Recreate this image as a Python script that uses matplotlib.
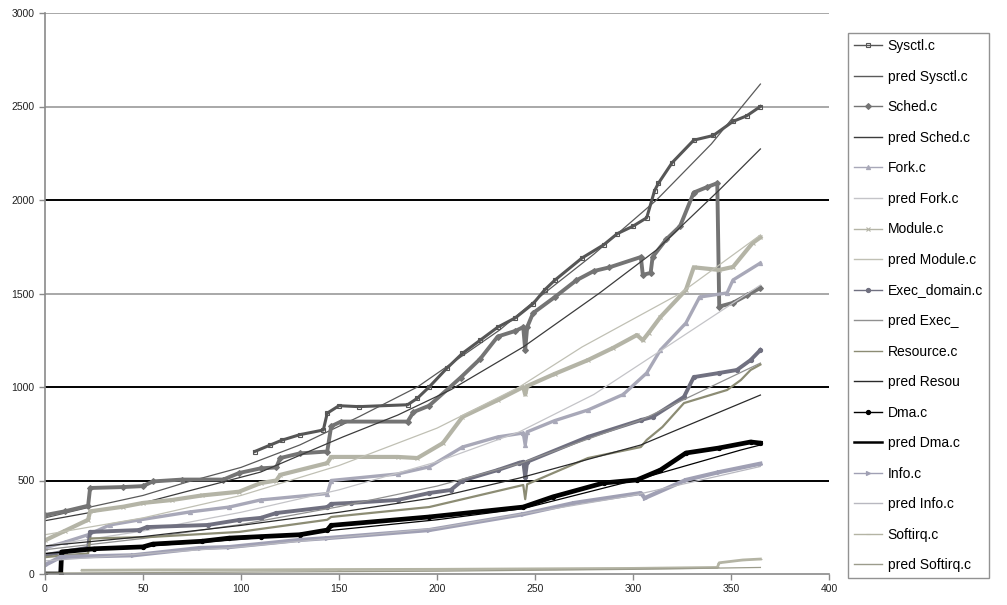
import numpy as np
import matplotlib
matplotlib.use('Agg')
import matplotlib.pyplot as plt

plt.rcParams['font.family'] = ['Liberation Sans', 'DejaVu Sans']

# ---- data (day, size) ----
sysctl_x = [107, 115, 121, 130, 142, 144, 150, 160, 185, 190, 196, 205, 213, 222, 231, 240, 249, 255, 260, 274, 285, 292, 300, 307, 311, 313, 320, 331, 341, 351, 358, 365]
sysctl_y = [655, 690, 716, 745, 770, 860, 900, 895, 905, 940, 1000, 1100, 1180, 1250, 1320, 1370, 1445, 1520, 1570, 1690, 1760, 1820, 1860, 1905, 2050, 2090, 2200, 2320, 2345, 2420, 2450, 2500]
pred_sysctl_x = [0, 23, 50, 72, 100, 130, 160, 190, 232, 249, 280, 312, 340, 365]
pred_sysctl_y = [300, 358, 420, 490, 570, 690, 840, 1000, 1305, 1454, 1710, 2000, 2300, 2620]

sched_x = [0, 10, 22, 23, 40, 50, 55, 70, 91, 99, 110, 118, 120, 130, 144, 146, 151, 185, 188, 196, 212, 222, 231, 240, 244, 245, 246, 249, 260, 271, 280, 288, 304, 305, 309, 310, 317, 324, 331, 338, 343, 344, 351, 358, 365]
sched_y = [315, 335, 365, 460, 465, 470, 495, 505, 505, 540, 565, 570, 620, 645, 655, 790, 815, 815, 866, 900, 1050, 1150, 1270, 1300, 1320, 1200, 1320, 1395, 1480, 1570, 1620, 1640, 1695, 1600, 1610, 1695, 1790, 1860, 2040, 2070, 2090, 1430, 1450, 1490, 1530]
pred_sched_x = [0, 50, 110, 152, 180, 207, 244, 283, 312, 344, 365]
pred_sched_y = [285, 380, 545, 733, 850, 985, 1214, 1503, 1733, 2053, 2273]

fork_x = [0, 10, 22, 33, 48, 74, 94, 110, 144, 146, 180, 196, 213, 231, 244, 245, 246, 260, 277, 295, 307, 314, 327, 334, 348, 351, 365]
fork_y = [140, 170, 210, 262, 289, 332, 358, 396, 430, 500, 535, 573, 679, 733, 754, 690, 760, 820, 877, 960, 1075, 1198, 1342, 1481, 1503, 1572, 1663]
pred_fork_x = [0, 50, 100, 150, 200, 242, 280, 317, 365]
pred_fork_y = [150, 230, 330, 450, 600, 760, 960, 1214, 1545]

module_x = [0, 10, 22, 23, 40, 50, 65, 80, 99, 110, 118, 120, 144, 146, 180, 190, 203, 213, 231, 244, 245, 246, 260, 277, 290, 302, 305, 308, 314, 327, 331, 344, 351, 361, 365]
module_y = [180, 230, 290, 335, 360, 380, 396, 420, 440, 486, 500, 530, 593, 626, 626, 620, 700, 840, 930, 1000, 960, 1005, 1070, 1144, 1210, 1278, 1250, 1290, 1374, 1519, 1640, 1626, 1642, 1770, 1800]
pred_module_x = [0, 50, 100, 150, 200, 242, 274, 324, 365]
pred_module_y = [210, 300, 420, 580, 780, 1000, 1214, 1500, 1813]

exec_x = [0, 10, 22, 23, 48, 52, 83, 99, 110, 118, 144, 146, 156, 180, 196, 207, 213, 231, 242, 244, 245, 246, 277, 304, 310, 326, 331, 344, 353, 360, 365]
exec_y = [100, 120, 140, 225, 235, 251, 262, 289, 300, 326, 358, 375, 380, 396, 433, 449, 500, 556, 595, 600, 520, 600, 733, 823, 840, 947, 1053, 1075, 1091, 1144, 1198]
pred_exec_x = [0, 50, 100, 150, 200, 242, 304, 365]
pred_exec_y = [130, 190, 265, 360, 470, 590, 823, 1128]

res_x = [0, 10, 22, 23, 54, 99, 144, 146, 196, 244, 245, 246, 277, 304, 307, 315, 326, 348, 355, 360, 365]
res_y = [90, 100, 110, 190, 198, 225, 290, 305, 358, 476, 400, 480, 620, 679, 717, 786, 914, 984, 1037, 1091, 1120]
pred_res_x = [0, 50, 100, 150, 200, 242, 304, 365]
pred_res_y = [150, 200, 260, 330, 410, 513, 690, 957]

dma_x = [0, 8, 8.5, 25, 50, 55, 80, 94, 110, 130, 144, 146, 196, 244, 259, 285, 302, 314, 327, 344, 360, 365]
dma_y = [0, 0, 118, 135, 145, 160, 175, 192, 200, 210, 235, 260, 305, 358, 412, 487, 503, 556, 647, 674, 706, 700]
pred_dma_x = [0, 100, 200, 244, 304, 355, 365]
pred_dma_y = [110, 185, 290, 350, 510, 663, 690]

info_x = [0, 8, 45, 79, 94, 130, 144, 196, 244, 270, 304, 306, 327, 344, 365]
info_y = [48, 91, 100, 139, 144, 182, 192, 235, 320, 380, 433, 406, 503, 545, 590]
pred_info_x = [0, 100, 200, 300, 365]
pred_info_y = [70, 145, 245, 420, 575]

softirq_x = [19, 60, 100, 150, 200, 260, 300, 343, 344, 356, 365]
softirq_y = [20, 22, 22, 24, 25, 28, 30, 35, 60, 75, 80]
pred_softirq_x = [0, 100, 200, 300, 365]
pred_softirq_y = [5, 10, 15, 25, 35]

yticks = [0, 500, 1000, 1500, 2000, 2500, 3000]
xticks = [0, 50, 100, 150, 200, 250, 300, 350, 400]

fig = plt.figure(figsize=(10.07, 6.05), dpi=100)
ax = fig.add_axes([45 / 1007, 1 - 574 / 605, 784 / 1007, 561 / 605])

# excel style grid: some lines came out darker than others
for yv in yticks[1:]:
    dark = yv in (500, 1000, 2000)
    ax.axhline(yv, color='black' if dark else '#9a9a9a', lw=1.4 if dark else 1.2, zorder=0)

# (label, x, y, color, marker, linewidth)
series = [
    ('Sysctl.c', sysctl_x, sysctl_y, '#565656', 's', 2.2),
    ('pred Sysctl.c', pred_sysctl_x, pred_sysctl_y, '#5a5a5a', None, 0.9),
    ('Sched.c', sched_x, sched_y, '#747474', 'D', 2.8),
    ('pred Sched.c', pred_sched_x, pred_sched_y, '#3c3c3c', None, 0.9),
    ('Fork.c', fork_x, fork_y, '#a8a8b8', '^', 2.4),
    ('pred Fork.c', pred_fork_x, pred_fork_y, '#c4c4c8', None, 0.9),
    ('Module.c', module_x, module_y, '#b4b4a6', 'x', 3.0),
    ('pred Module.c', pred_module_x, pred_module_y, '#c0c0b4', None, 0.9),
    ('Exec_domain.c', exec_x, exec_y, '#707080', 'o', 2.8),
    ('pred Exec_', pred_exec_x, pred_exec_y, '#909090', None, 0.9),
    ('Resource.c', res_x, res_y, '#8c8c74', None, 1.6),
    ('pred Resou', pred_res_x, pred_res_y, '#2a2a2a', None, 0.9),
    ('Dma.c', dma_x, dma_y, '#000000', 'o', 3.4),
    ('pred Dma.c', pred_dma_x, pred_dma_y, '#000000', None, 0.9),
    ('Info.c', info_x, info_y, '#a0a0b4', '>', 3.0),
    ('pred Info.c', pred_info_x, pred_info_y, '#b8b8c0', None, 0.9),
    ('Softirq.c', softirq_x, softirq_y, '#b4b4a4', '_', 2.0),
    ('pred Softirq.c', pred_softirq_x, pred_softirq_y, '#9c9c8c', None, 0.9),
]

for label, xs, ys, col, mk, lw in series:
    ax.plot(xs, ys, color=col, lw=lw, marker=mk, ms=3, mfc='none' if mk == 's' else col,
            mew=0.8, label=label)

ax.set_xlim(0, 400)
ax.set_ylim(0, 3000)
ax.set_xticks(xticks)
ax.set_yticks(yticks)
ax.tick_params(axis='both', labelsize=7.5, colors='#222222', length=4, width=1, direction='out')
ax.tick_params(axis='both', color='#8a8a8a')
ax.spines['top'].set_visible(False)
ax.spines['right'].set_visible(False)
for s in ('left', 'bottom'):
    ax.spines[s].set_color('#8a8a8a')
    ax.spines[s].set_linewidth(1.2)

leg = ax.legend(loc='upper left', bbox_to_anchor=(848 / 1007, 1 - 33 / 605),
                bbox_transform=fig.transFigure, borderaxespad=0, fontsize=10,
                frameon=True, fancybox=False, edgecolor='#777777',
                handlelength=2.0, handletextpad=0.4, labelspacing=1.19,
                borderpad=0.45, markerscale=1.0)
leg.get_frame().set_linewidth(1.0)
for h in leg.get_lines():
    h.set_linewidth(1.0)
leg.get_lines()[13].set_linewidth(1.8)

fig.savefig('out.png', dpi=100)
